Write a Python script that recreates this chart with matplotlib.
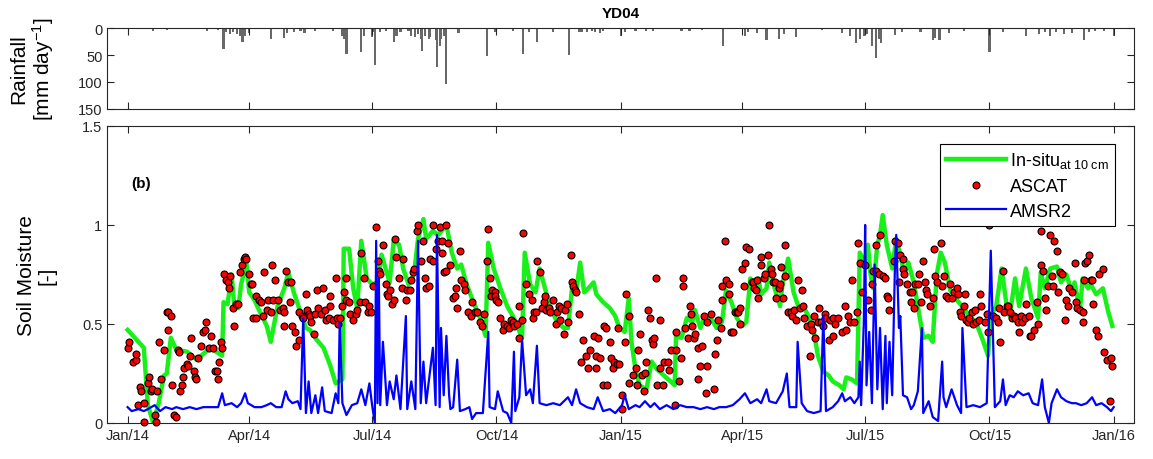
import numpy as np
import matplotlib
matplotlib.use('Agg')
import matplotlib.pyplot as plt
import matplotlib.dates as mdates

plt.rcParams['font.family'] = ['Liberation Sans', 'DejaVu Sans']
plt.rcParams['mathtext.fontset'] = 'custom'
plt.rcParams['mathtext.rm'] = 'Liberation Sans'
plt.rcParams['mathtext.it'] = 'Liberation Sans:italic'
plt.rcParams['mathtext.bf'] = 'Liberation Sans:bold'

# all series: (day since 2014-01-01, value)
rain = [(19, 5), (29, 3), (59, 5), (67, 3), (71, 39), (73, 8), (76, 11), (78, 8), (81, 11),
        (83, 15), (85, 25), (87, 14), (90, 10), (106, 20), (116, 19), (118, 9), (123, 7),
        (128, 5), (131, 9), (139, 6), (152, 5), (159, 14), (160, 20), (162, 48), (173, 45),
        (175, 14), (181, 17), (182, 8), (183, 69), (187, 8), (191, 5), (197, 25), (199, 15),
        (202, 8), (208, 5), (210, 14), (213, 17), (215, 11), (217, 20), (218, 42), (220, 14),
        (223, 20), (224, 17), (228, 23), (229, 73), (231, 33), (232, 20), (234, 14), (236, 104),
        (245, 9), (266, 52), (272, 7), (285, 6), (293, 48), (297, 8), (303, 25), (315, 8),
        (327, 50), (334, 8), (336, 7), (340, 7), (344, 6), (346, 8), (350, 9), (352, 6),
        (365, 14), (368, 8), (376, 5), (384, 6), (389, 5), (410, 5), (416, 5), (425, 4),
        (441, 34), (457, 15), (459, 8), (466, 10), (473, 22), (482, 20), (486, 11), (495, 17),
        (514, 4), (529, 9), (535, 14), (539, 27), (542, 20), (545, 15), (547, 11), (551, 33),
        (554, 56), (556, 20), (558, 28), (568, 13), (573, 7), (587, 8), (596, 22), (598, 19),
        (601, 22), (608, 9), (619, 6), (638, 45), (648, 8), (665, 14), (675, 11), (679, 7),
        (683, 14), (687, 8), (693, 11), (699, 9), (708, 23), (712, 8), (716, 6), (723, 5),
        (730, 14)]

insitu = [(0, .47), (12, .38), (15, .09), (19, .00), (23, .10), (27, .24), (29, .25), (32, .43),
          (36, .37), (44, .36), (51, .32), (58, .36), (61, .38), (70, .34), (71, .61), (74, .60),
          (77, .75), (79, .59), (82, .58), (84, .70), (88, .81), (90, .66), (94, .62), (98, .56),
          (103, .49), (106, .41), (111, .59), (116, .68), (119, .76), (123, .66), (128, .56),
          (132, .48), (135, .47), (140, .42), (145, .38), (150, .29), (154, .20), (159, .22),
          (160, .88), (164, .88), (167, .68), (170, .58), (173, .92), (177, .73), (181, .70),
          (185, .71), (188, .85), (191, .78), (194, .71), (197, .92), (201, .90), (204, .78),
          (208, .70), (212, .75), (215, .93), (219, 1.03), (221, .93), (226, .97), (230, .95),
          (236, 1.00), (240, .86), (244, .78), (247, .80), (251, .70), (256, .61), (261, .53),
          (265, .44), (267, .91), (271, .78), (276, .68), (281, .59), (286, .53), (292, .43),
          (294, .86), (298, .70), (302, .66), (305, .78), (309, .68), (313, .58), (318, .51),
          (323, .48), (326, .48), (329, .68), (332, .66), (335, .81), (338, .66), (341, .68),
          (345, .71), (347, .65), (352, .61), (357, .58), (361, .54), (364, .48), (368, .46),
          (371, .63), (373, .41), (376, .27), (379, .19), (384, .17), (388, .31), (392, .27),
          (397, .24), (402, .21), (405, .19), (406, .44), (410, .43), (414, .53), (418, .51),
          (420, .57), (424, .48), (427, .53), (431, .54), (436, .48), (440, .51), (443, .67),
          (447, .61), (451, .53), (455, .49), (458, .51), (461, .73), (464, .70), (467, .73),
          (469, .65), (473, .68), (475, .81), (479, .68), (483, .59), (485, .71), (489, .83),
          (493, .66), (497, .58), (500, .59), (504, .54), (508, .46), (511, .34), (515, .26),
          (519, .24), (522, .21), (527, .19), (530, .17), (532, .23), (536, .22), (540, .20),
          (542, .86), (546, .81), (548, .90), (550, .75), (552, .68), (555, .90), (557, .95),
          (559, 1.05), (562, .90), (566, .78), (569, .93), (572, .85), (575, .75), (578, .81),
          (582, .71), (585, .59), (589, .43), (593, .44), (596, .41), (599, .75), (602, .86),
          (605, .81), (609, .67), (614, .62), (619, .58), (623, .54), (628, .51), (633, .42),
          (637, .34), (639, .54), (643, .59), (647, .78), (651, .58), (653, .54), (657, .73),
          (660, .59), (665, .78), (669, .63), (674, .53), (676, .76), (679, .68), (683, .78),
          (688, .79), (691, .71), (695, .75), (699, .66), (701, .71), (705, .57), (707, .73),
          (711, .68), (713, .70), (717, .65), (722, .68), (726, .56), (729, .49)]

ascat = [(0, .38), (1, .41), (4, .31), (6, .32), (6, .35), (8, .09), (9, .18), (10, .16), (12, .10),
         (12, .005), (15, .20), (16, .23), (17, .16), (18, .17), (20, .04), (21, .005), (22, .16),
         (23, .41), (25, .22), (27, .37), (29, .56), (30, .56), (30, .47), (32, .54), (33, .19),
         (34, .04), (36, .03), (37, .37), (38, .36), (39, .16), (40, .19), (41, .23), (42, .28),
         (44, .30), (45, .29), (46, .34), (47, .43), (49, .26), (50, .23), (51, .22), (52, .33),
         (54, .39), (56, .46), (57, .47), (58, .51), (60, .38), (62, .44), (63, .38), (65, .26),
         (66, .26), (67, .22), (68, .31), (69, .41), (70, .38), (71, .75), (73, .72), (74, .71),
         (75, .68), (76, .74), (78, .58), (79, .49), (80, .60), (82, .60), (83, .76), (85, .80),
         (86, .83), (87, .84), (88, .83), (90, .75), (91, .70), (92, .70), (93, .53), (95, .53),
         (95, .64), (97, .62), (99, .61), (100, .54), (101, .76), (103, .57), (104, .62),
         (106, .56), (107, .80), (108, .62), (109, .72), (111, .62), (113, .57), (115, .58),
         (116, .56), (116, .49), (117, .77), (119, .71), (120, .61), (121, .71), (122, .49),
         (124, .46), (125, .39), (127, .42), (127, .56), (129, .54), (130, .53), (132, .65),
         (133, .57), (134, .55), (135, .54), (136, .51), (138, .45), (139, .55), (140, .67),
         (141, .58), (143, .55), (145, .68), (146, .57), (147, .52), (149, .53), (150, .64),
         (150, .59), (152, .52), (154, .73), (155, .53), (156, .50), (157, .53), (159, .59),
         (160, .66), (162, .73), (162, .62), (164, .61), (165, .55), (167, .52), (169, .55),
         (170, .57), (172, .61), (173, .86), (175, .73), (176, .61), (178, .56), (179, .59),
         (180, .56), (182, .69), (184, .99), (185, .82), (186, .77), (187, .75), (189, .90),
         (191, .70), (192, .65), (193, .64), (194, .67), (196, .60), (197, .62), (198, .93),
         (199, .84), (201, .73), (203, .68), (204, .83), (206, .62), (207, .67), (209, .67),
         (210, .72), (211, .76), (212, .78), (214, .97), (215, 1.00), (217, .82), (219, .92),
         (220, .73), (221, .68), (223, .69), (224, .83), (226, 1.00), (226, .82), (228, .88),
         (230, .92), (231, .99), (233, .92), (233, .86), (234, .76), (236, .77), (236, 1.00),
         (237, .91), (239, .80), (241, .63), (242, .64), (243, .68), (244, .58), (246, .87),
         (247, .72), (249, .70), (250, .67), (252, .56), (254, .54), (255, .61), (257, .56),
         (259, .56), (261, .51), (262, .49), (264, .55), (266, .82), (267, .98), (268, .73),
         (269, .64), (270, .67), (272, .66), (272, .64), (273, .62), (274, .61), (276, .53),
         (278, .47), (279, .50), (281, .49), (282, .48), (284, .52), (285, .51), (286, .49),
         (288, .50), (290, .43), (290, .59), (292, .52), (293, .96), (295, .70), (297, .65),
         (299, .62), (300, .53), (301, .56), (302, .56), (303, .82), (305, .76), (307, .58),
         (308, .61), (309, .64), (310, .57), (312, .58), (313, .56), (315, .62), (317, .50),
         (318, .56), (319, .59), (320, .52), (321, .58), (323, .45), (324, .57), (325, .60),
         (326, .51), (328, .85), (329, .71), (330, .69), (331, .67), (332, .66), (334, .55),
         (336, .31), (337, .42), (339, .34), (341, .28), (342, .37), (345, .44), (347, .28),
         (347, .34), (348, .43), (350, .33), (352, .19), (353, .49), (354, .48), (355, .19),
         (357, .41), (358, .33), (359, .28), (360, .31), (362, .30), (363, .48), (364, .30),
         (366, .14), (366, .07), (368, .41), (369, .65), (371, .54), (371, .20), (374, .24),
         (376, .28), (377, .19), (378, .37), (379, .45), (381, .24), (382, .16), (383, .25),
         (384, .31), (385, .57), (387, .53), (388, .42), (389, .40), (390, .43), (391, .73),
         (392, .19), (394, .52), (394, .28), (396, .19), (397, .31), (400, .31), (401, .27),
         (402, .37), (405, .09), (406, .37), (406, .46), (408, .21), (410, .33), (411, .69),
         (411, .73), (413, .48), (415, .43), (416, .59), (417, .55), (418, .49), (419, .43),
         (420, .45), (422, .38), (422, .22), (424, .29), (425, .39), (427, .54), (428, .15),
         (429, .29), (429, .51), (432, .55), (434, .17), (435, .35), (436, .42), (437, .52),
         (439, .48), (440, .62), (440, .69), (442, .92), (443, .72), (445, .70), (445, .65),
         (447, .46), (448, .46), (450, .56), (451, .56), (452, .56), (453, .58), (453, .50),
         (455, .78), (456, .69), (457, .81), (458, .89), (460, .88), (462, .71), (463, .71),
         (464, .68), (465, .67), (466, .72), (467, .63), (469, .80), (469, .84), (471, .73),
         (472, .75), (474, .85), (475, 1.00), (476, .78), (477, .75), (478, .71), (479, .71),
         (480, .63), (482, .68), (483, .70), (484, .79), (485, .63), (487, .74), (487, .90),
         (489, .56), (491, .56), (492, .54), (493, .57), (495, .52), (496, .72), (498, .58),
         (499, .67), (500, .59), (501, .53), (503, .49), (505, .34), (506, .50), (507, .47),
         (508, .54), (509, .43), (511, .51), (512, .58), (513, .51), (515, .49), (516, .55),
         (516, .53), (519, .42), (520, .52), (522, .44), (522, .53), (524, .50), (526, .53),
         (529, .46), (531, .59), (532, .47), (533, .54), (535, .51), (536, .72), (538, .51),
         (540, .56), (541, .91), (542, .81), (544, .66), (546, .80), (548, .62), (550, .57),
         (551, .70), (552, .77), (554, .77), (554, .90), (556, .75), (557, .95), (559, .74),
         (561, .73), (562, .64), (563, .63), (564, .57), (567, .82), (568, .92), (570, .91),
         (571, .71), (572, .85), (574, .83), (574, .78), (575, .75), (577, .70), (579, .66),
         (580, .61), (581, .66), (582, .58), (583, .70), (585, .70), (586, .75), (587, .61),
         (589, .82), (590, .71), (591, .67), (592, .65), (594, .59), (596, .63), (597, .88),
         (598, .74), (599, .71), (602, .91), (603, .69), (604, .74), (606, .64), (607, .63),
         (609, .70), (610, .63), (612, .66), (614, .68), (615, .65), (616, .56), (617, .54),
         (619, .59), (620, .65), (621, .52), (622, .51), (623, .53), (625, .56), (626, .50),
         (627, .57), (628, .51), (630, .52), (631, .65), (632, .59), (635, .51), (636, .55),
         (637, .46), (638, 1.00), (641, .54), (643, .53), (644, .51), (645, .58), (646, .41),
         (648, .77), (649, .56), (651, .59), (652, .59), (653, .56), (655, .53), (656, .54),
         (657, .53), (659, .51), (660, .46), (661, .54), (662, .51), (664, .53), (665, .60),
         (667, .54), (668, .44), (669, .44), (671, .47), (673, .61), (674, .50), (676, .80),
         (676, .97), (678, .77), (679, .63), (680, .57), (681, .69), (683, .95), (684, .74),
         (685, .69), (686, .92), (688, .87), (689, .66), (690, .76), (692, .75), (694, .52),
         (695, .62), (696, .59), (697, .68), (699, .66), (701, .81), (702, .61), (703, .58),
         (705, .57), (707, .56), (707, .51), (708, .72), (709, .81), (710, .82), (712, .85),
         (713, .72), (714, .72), (715, .60), (717, .47), (718, .44), (719, .75), (722, .78),
         (723, .36), (725, .32), (727, .11), (728, .33), (729, .29)]

amsr2 = [(0, .08), (3, .06), (8, .07), (12, .06), (15, .07), (20, .09), (24, .06), (28, .08),
         (33, .07), (36, .08), (41, .07), (46, .08), (51, .07), (56, .08), (61, .08), (67, .08),
         (70, .15), (72, .09), (77, .10), (81, .08), (84, .10), (87, .15), (89, .10), (94, .08),
         (99, .08), (103, .09), (106, .10), (110, .08), (114, .08), (117, .16), (119, .12),
         (122, .10), (126, .11), (128, .07), (130, .53), (132, .05), (134, .21), (136, .05),
         (139, .14), (141, .05), (144, .18), (146, .06), (151, .05), (154, .15), (156, .10),
         (157, .51), (159, .10), (162, .04), (166, .09), (170, .10), (173, .17), (176, .09),
         (179, .20), (181, .09), (183, .00), (184, .92), (185, .10), (186, .73), (187, .09),
         (189, .41), (192, .09), (194, .21), (197, .12), (199, .24), (202, .07), (206, .54),
         (207, .07), (210, .21), (213, .07), (215, .92), (217, .10), (219, .31), (221, .10),
         (226, .38), (228, .09), (229, .95), (231, .08), (232, .48), (234, .14), (236, .44),
         (238, .14), (239, .07), (241, .08), (244, .32), (246, .06), (250, .07), (253, .08),
         (255, .02), (258, .05), (263, .05), (267, .46), (268, .08), (272, .07), (274, .16),
         (278, .06), (281, .05), (284, .00), (286, .36), (287, .06), (290, .13), (292, .42),
         (295, .14), (298, .17), (300, .10), (303, .39), (305, .10), (310, .09), (315, .10),
         (320, .09), (326, .13), (329, .09), (332, .17), (335, .10), (340, .08), (345, .07),
         (348, .13), (352, .06), (357, .07), (361, .05), (366, .09), (368, .14), (371, .07),
         (376, .09), (379, .08), (383, .11), (387, .08), (390, .10), (394, .07), (399, .09),
         (404, .07), (409, .09), (414, .08), (419, .08), (424, .07), (429, .08), (434, .07),
         (438, .08), (443, .08), (448, .09), (453, .12), (457, .15), (461, .10), (466, .12),
         (469, .10), (473, .17), (475, .11), (480, .10), (485, .16), (488, .25), (490, .08),
         (495, .08), (496, .41), (499, .10), (503, .06), (508, .05), (513, .06), (515, .54),
         (517, .06), (522, .08), (526, .11), (529, .15), (531, .11), (535, .13), (538, .10),
         (541, .13), (542, .31), (543, .09), (545, .51), (546, 1.00), (547, .19), (549, .46),
         (551, .10), (553, .80), (555, .17), (557, .48), (559, .07), (561, .44), (562, .10),
         (564, .41), (566, .14), (568, .78), (569, .95), (571, .48), (572, .54), (574, .14),
         (577, .13), (580, .07), (582, .09), (585, .16), (588, .48), (589, .05), (593, .11),
         (596, .03), (600, .01), (603, .31), (604, .13), (606, .08), (610, .17), (614, .09),
         (617, .05), (618, .48), (621, .08), (626, .09), (631, .08), (636, .10), (639, .87),
         (642, .08), (646, .11), (648, .22), (650, .09), (653, .14), (656, .13), (659, .16),
         (663, .14), (667, .15), (670, .10), (674, .09), (677, .22), (679, .08), (682, .00),
         (684, .10), (688, .17), (691, .13), (695, .11), (699, .10), (702, .10), (706, .09),
         (710, .10), (714, .13), (717, .09), (721, .10), (725, .08), (728, .06), (730, .08)]

start = np.datetime64('2014-01-01')


def split(pairs):
    d, v = np.array(pairs, dtype=float).T
    return start + d.astype('timedelta64[D]'), v


rain_t, rain_mm = split(rain)
insitu_t, insitu_sm = split(insitu)
ascat_t, ascat_sm = split(ascat)
amsr2_t, amsr2_sm = split(amsr2)

ticks = np.array(['2014-01-01', '2014-04-01', '2014-07-01', '2014-10-01', '2015-01-01',
                  '2015-04-01', '2015-07-01', '2015-10-01', '2016-01-01'], dtype='datetime64[D]')
xlim = (np.datetime64('2013-12-17'), np.datetime64('2016-01-16'))
dark = '#262626'


def style(ax):
    for s in ax.spines.values():
        s.set_color(dark)
        s.set_linewidth(0.8)
    ax.tick_params(direction='in', length=5, width=0.8, top=True, right=True,
                   colors=dark, labelsize=10.5)
    ax.set_xticks(ticks)
    ax.set_xlim(*xlim)


fig = plt.figure(figsize=(11.53, 4.6), dpi=100)
ax_r = fig.add_axes([0.0931, 0.7609, 0.8904, 0.176])
ax = fig.add_axes([0.0931, 0.0783, 0.8904, 0.6457])

# rainfall, hanging from the top
ax_r.bar(rain_t, rain_mm, width=1.6, color='#686868', linewidth=0)
style(ax_r)
ax_r.set_ylim(150, 0)
ax_r.set_yticks([0, 50, 100, 150])
ax_r.set_xticklabels([])
ax_r.set_title('YD04', fontsize=11, fontweight='bold', pad=8)
ax_r.set_ylabel('Rainfall\n[mm day$^{-1}$]', fontsize=15, linespacing=1.1)
ax_r.yaxis.set_label_coords(-0.05, 0.5)

# soil moisture
ax.plot(insitu_t, insitu_sm, color='#19f019', lw=3.2, label=r'In-situ$_{\rm at\ 10\ cm}$')
ax.plot(ascat_t, ascat_sm, 'o', ms=5, mfc='red', mec='black', mew=0.8, clip_on=False,
        label='ASCAT')
ax.plot(amsr2_t, amsr2_sm, color='#0000ff', lw=1.6, label='AMSR2')
style(ax)
ax.xaxis.set_major_formatter(mdates.DateFormatter('%b/%y'))
ax.set_ylim(0, 1.5)
ax.set_yticks([0, 0.5, 1, 1.5])
ax.set_yticklabels(['0', '0.5', '1', '1.5'])
ax.set_ylabel('Soil Moisture\n[-]', fontsize=15, linespacing=1.1)
ax.yaxis.set_label_coords(-0.05, 0.5)
ax.text(np.datetime64('2014-01-04'), 1.19, '(b)', fontsize=11, fontweight='bold')

leg = ax.legend(loc='upper right', bbox_to_anchor=(0.982, 0.939), fontsize=13,
                frameon=True, fancybox=False, framealpha=1, edgecolor='black',
                handlelength=3.3, handletextpad=0.25, borderaxespad=0,
                labelspacing=0.42, borderpad=0.35)
leg.get_frame().set_linewidth(0.8)

fig.savefig('out.png', dpi=100)
